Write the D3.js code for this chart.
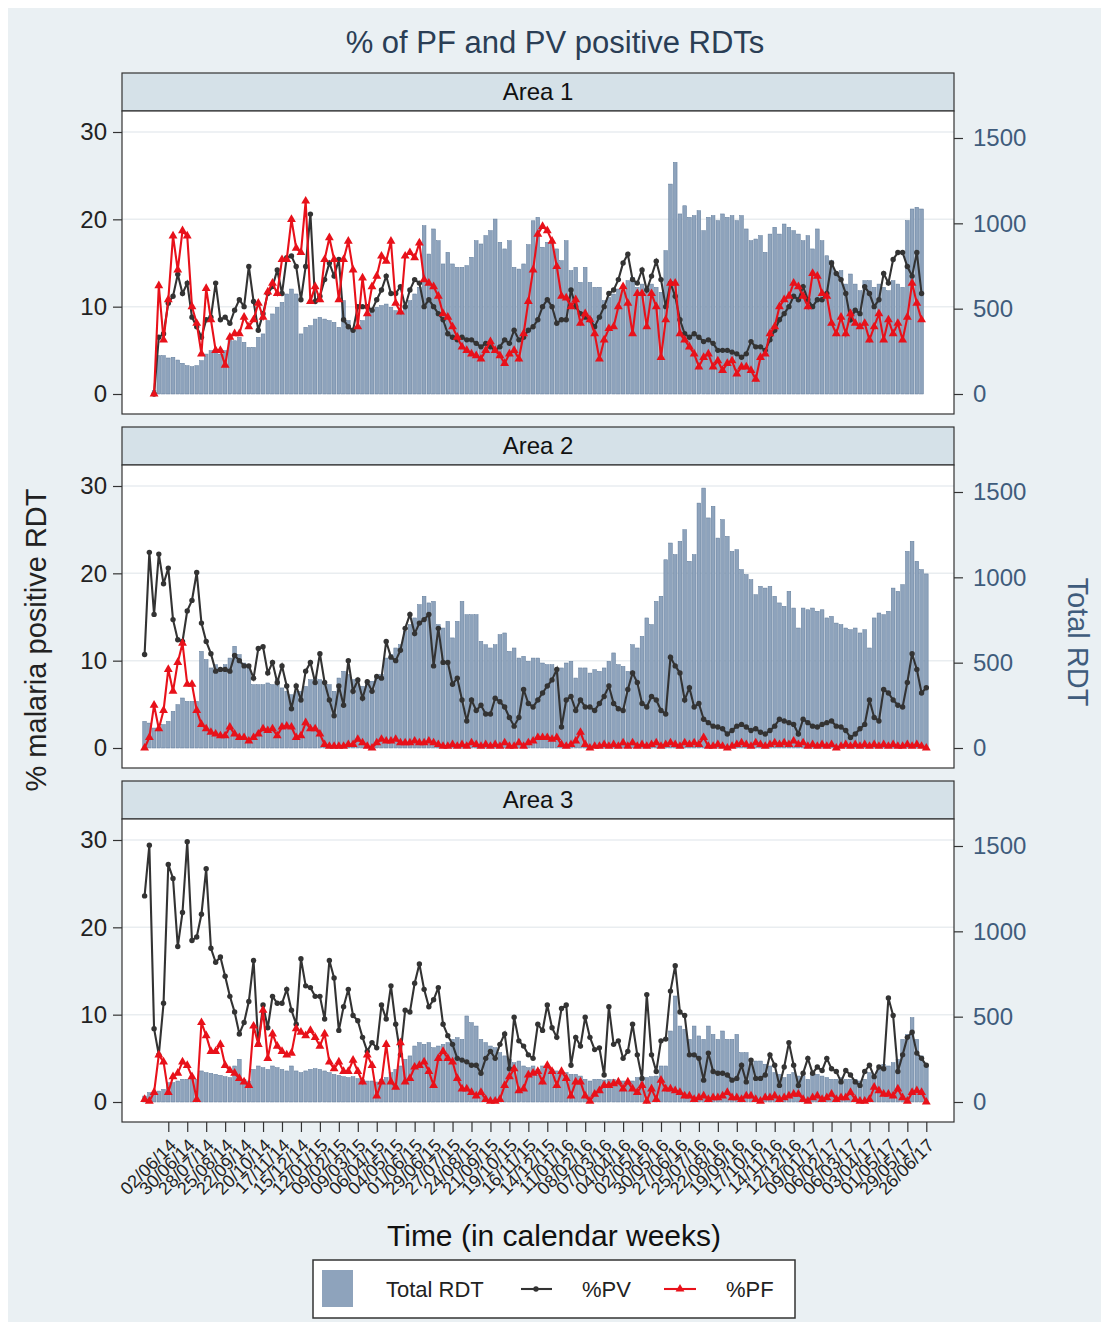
<!DOCTYPE html>
<html>
<head>
<meta charset="utf-8">
<script src="https://cdn.jsdelivr.net/npm/d3@7"></script>
<style>
  body { margin: 0; background: #fff; }
  text { font-family: "Liberation Sans", Arial, sans-serif; }
</style>
</head>
<body>
<script>
// x tick labels, one every 4 weeks (week index 5, 9, ... 165)
const tickLabels = ["02/06/14","30/06/14","28/07/14","25/08/14","22/09/14","20/10/14","17/11/14","15/12/14",
  "12/01/15","09/02/15","09/03/15","06/04/15","04/05/15","01/06/15","29/06/15","27/07/15","24/08/15",
  "21/09/15","19/10/15","16/11/15","14/12/15","11/01/16","08/02/16","07/03/16","04/04/16","02/05/16",
  "30/05/16","27/06/16","25/07/16","22/08/16","19/09/16","17/10/16","14/11/16","12/12/16","09/01/17",
  "06/02/17","06/03/17","03/04/17","01/05/17","29/05/17","26/06/17"];
const tickWeeks = d3.range(5, 166, 4);

// weekly values, week 0 = 28/04/14
const area1Total = [null, null, 20, 225, 225, 211, 215, 199, 180, 166,
  160, 166, 195, 234, 254, 254, 234, 254, 332, 312,
  332, 303, 273, 273, 332, 352, 430, 469, 508, 537,
  586, 615, 586, 352, 391, 400, 439, 449, 439, 430,
  420, 391, 547, 430, 381, 391, 430, 469, 488, 508,
  518, 527, 508, 488, 469, 518, 547, 586, 625, 986,
  820, 967, 898, 762, 830, 762, 742, 742, 752, 801,
  898, 879, 928, 957, 1025, 889, 850, 898, 742, 732,
  762, 875, 1015, 1035, 860, 889, 898, 850, 781, 898,
  723, 742, 654, 742, 654, 625, 625, 547, 566, 586,
  615, 605, 664, 684, 625, 644, 625, 644, 625, 596,
  840, 1230, 1357, 1055, 1103, 1035, 1045, 1074, 957, 1035,
  1045, 1016, 1055, 1035, 1045, 1016, 1045, 967, 898, 908,
  928, 830, 937, 977, 937, 996, 977, 957, 937, 898,
  928, 850, 967, 898, 810, 781, 703, 723, 644, 703,
  644, 605, 664, 664, 625, 644, 625, 605, 664, 644,
  625, 1016, 1084, 1094, 1084, null];
const area1PV = [null, null, 0, 6.5, 6.9, 10.4, 11.2, 13.7, 11.5, 12.7,
  8.8, 7.7, 6.5, 8.5, 8.8, 12.7, 8.5, 8.8, 8.1, 9.6,
  10.8, 10, 14.6, 10.6, 7.3, 9.2, 11.5, 12.3, 14.2, 11.5,
  15.6, 15.8, 14.6, 10.8, 14.6, 20.6, 10.6, 11.2, 13.1, 15,
  13.5, 15.4, 8.5, 7.7, 7.3, 10, 10, 10, 9.6, 10.8,
  11.9, 13.5, 11.5, 11.5, 12.3, 10, 11.9, 13.1, 12.7, 10,
  10.8, 10, 9.2, 8.5, 6.9, 6.5, 6.2, 6.5, 6.2, 6.2,
  5.8, 5.4, 5.8, 5.4, 5, 5.4, 6.2, 5.8, 7.3, 6.2,
  6.5, 7.3, 7.7, 8.5, 10, 10.8, 10, 8.1, 8.5, 8.5,
  11.9, 10, 9.2, 8.8, 8.5, 7.7, 8.8, 10, 11.5, 11.9,
  13.1, 15, 16, 13.1, 12.7, 14.2, 11.9, 13.5, 15.2, 13.1,
  10, 12.7, 11.2, 8.5, 6.9, 6.5, 6.9, 6.5, 6, 6.2,
  5.8, 5, 5, 5, 4.8, 4.6, 4.2, 4.6, 6, 5.4,
  5.4, 5, 6.2, 7.3, 8.5, 9.2, 10, 11.2, 10.8, 12.3,
  10.8, 10, 10.8, 10.8, 11.5, 15, 13.8, 13.1, 11.5, 8.5,
  9.6, 9.2, 12.3, 11.5, 10, 10.8, 13.8, 12.7, 15.4, 16.2,
  16.2, 14.6, 13.5, 16.2, 11.5, null];
const area1PF = [null, null, 0, 12.4, 6.2, 10.8, 18.1, 14.2, 18.7, 18.1,
  10, 8.1, 4.6, 12.1, 8.5, 5, 5, 3.3, 6.5, 6.9,
  6.9, 8.8, 7.7, 8.5, 10.4, 8.8, 11.7, 12.7, 11.5, 15.4,
  15.4, 20, 16.7, 16.2, 22.1, 10.6, 12.3, 10.8, 15.4, 17.9,
  15.4, 10.8, 15.4, 17.5, 14.2, 7.7, 13.3, 9.2, 12.3, 13.5,
  15.8, 15.2, 17.5, 10.4, 9.4, 15.8, 16.2, 15.6, 17.3, 13.1,
  12.7, 12.3, 11.2, 9.2, 8.8, 7.7, 6.5, 5.4, 5, 4.6,
  4.4, 4, 5, 6, 5, 4.4, 3.5, 4.6, 5, 4,
  6.9, 10.6, 14.2, 18.3, 19.2, 18.7, 17.5, 14.6, 11.2, 11,
  10, 10.8, 8.1, 9.2, 8.5, 6.9, 4, 6.2, 7.5, 7.7,
  10, 12.3, 10.4, 6.9, 11.5, 11.5, 7.7, 11.5, 10, 4.2,
  8.5, 12.7, 12.7, 6.9, 6.2, 5.4, 4.6, 3.1, 4.2, 4.6,
  3.1, 3.8, 2.7, 3.5, 3.8, 2.3, 3.1, 3.1, 2.7, 1.7,
  4.2, 4.6, 6.9, 7.7, 10, 10.8, 11.2, 12.7, 12.3, 11.2,
  10, 13.8, 13.5, 11.5, 11.2, 8.1, 6.9, 8.8, 6.9, 9.2,
  8.1, 7.7, 8.1, 6.2, 7.7, 9.2, 6.2, 8.5, 6.9, 8.1,
  6.2, 8.8, 12.7, 10.4, 8.5, null];

const area2Total = [156, 146, 117, 98, 137, 156, 215, 254, 293, 273,
  273, 273, 566, 518, 469, 488, 469, 488, 527, 596,
  547, 498, 488, 371, 371, 371, 381, 371, 400, 352,
  332, 312, 332, 332, 361, 400, 410, 400, 371, 371,
  332, 410, 449, 430, 400, 371, 361, 381, 391, 410,
  430, 527, 547, 586, 605, 684, 723, 762, 840, 889,
  850, 859, 723, 703, 742, 645, 742, 859, 781, 781,
  781, 625, 605, 586, 605, 664, 674, 566, 586, 527,
  537, 508, 527, 527, 498, 488, 488, 449, 469, 498,
  508, 410, 469, 469, 439, 459, 449, 469, 508, 557,
  488, 478, 449, 605, 586, 654, 762, 723, 859, 889,
  1103, 1201, 1133, 1211, 1279, 1094, 1133, 1435, 1523, 1348,
  1416, 1230, 1338, 1240, 1152, 1162, 1045, 1016, 986, 898,
  947, 937, 947, 889, 850, 830, 918, 820, 703, 820,
  810, 820, 801, 810, 762, 771, 732, 723, 703, 693,
  703, 674, 693, 586, 762, 791, 781, 801, 937, 918,
  957, 1152, 1211, 1094, 1045, 1020];
const area2PV = [10.7, 22.4, 15.3, 22.2, 18.8, 20.6, 14.7, 12.4, 12.2, 15.7,
  16.9, 20.1, 14.3, 12.2, 10.8, 8.8, 9, 9, 8.8, 10.6,
  10, 9.4, 9.4, 8, 11.4, 11.6, 8.6, 9.8, 7.5, 9.4,
  7.1, 4.5, 7.1, 5.5, 8.8, 9.8, 7.5, 10.8, 7.5, 5.5,
  3.7, 7.1, 4.9, 10, 6.5, 7.8, 5.7, 7.6, 6.5, 8.2,
  8, 12.2, 10.4, 10, 11.2, 13.7, 15.3, 13.1, 14.3, 14.7,
  15.3, 9.4, 13.7, 9.8, 9.8, 7.3, 8, 5.5, 3.1, 5.5,
  4.3, 4.9, 3.9, 3.9, 5.7, 5.3, 4.7, 3.5, 2.5, 3.5,
  6.7, 5.1, 4.7, 5.5, 6.3, 7.1, 7.8, 9, 2.4, 5.5,
  5.9, 4.3, 5.5, 4.7, 4.7, 4.3, 5.1, 5.9, 7.1, 5.1,
  4.5, 4.3, 6.7, 8.6, 7.5, 5.1, 4.7, 5.9, 5.5, 4.3,
  3.9, 10.4, 9.4, 8.6, 5.5, 6.9, 4.7, 5.1, 3.3, 2.9,
  2.5, 2.4, 2.2, 1.6, 2, 2.5, 2.7, 2.4, 2, 2.2,
  1.8, 1.6, 2, 2.5, 3.3, 3.1, 2.9, 2.7, 1.6, 3.3,
  2.9, 2.5, 2.4, 2.7, 2.9, 3.1, 2.5, 2.4, 2, 1.2,
  1.6, 2.2, 2.7, 5.5, 3.5, 3.1, 6.7, 6.3, 5.5, 4.9,
  4.7, 7.5, 10.8, 9, 6.3, 6.9];
const area2PF = [0, 1.2, 4.9, 2.2, 4.3, 9, 6.5, 9.8, 12, 7.3,
  7.3, 4.3, 2.7, 2.2, 1.8, 1.6, 1.4, 1.4, 2.4, 1.6,
  1.2, 1.2, 0.8, 1.2, 1.6, 2.2, 2, 2.2, 1.4, 2.4,
  2.5, 2.4, 1.2, 1.4, 2.9, 2.2, 2.2, 1.6, 0.4, 0.2,
  0.2, 0.2, 0.2, 0.4, 0.4, 1, 0.6, 0.2, 0, 0.6,
  1, 0.8, 0.8, 1, 0.6, 0.6, 0.6, 0.8, 0.6, 0.6,
  0.8, 0.6, 0.4, 0.2, 0.2, 0.4, 0.2, 0.4, 0.2, 0.6,
  0.4, 0.2, 0.4, 0.2, 0.4, 0.2, 0.6, 0.2, 0.2, 0.6,
  0.2, 0.6, 0.8, 1.2, 1.2, 1.2, 1, 1.2, 0.4, 0.2,
  0.4, 0.8, 1.8, 0.4, 0, 0.2, 0.2, 0.4, 0.2, 0.4,
  0.2, 0.6, 0.2, 0.6, 0.2, 0.4, 0.2, 0.4, 0.6, 0.2,
  0.4, 0.6, 0.4, 0.2, 0.6, 0.4, 0.6, 0.4, 1.2, 0.2,
  0.2, 0.4, 0.2, 0, 0.2, 0.4, 0.6, 0.4, 0.2, 0.6,
  0.4, 0.2, 0.4, 0.6, 0.4, 0.6, 0.4, 0.8, 0.4, 0.6,
  0.2, 0.4, 0.2, 0.4, 0.2, 0.4, 0, 0.2, 0.4, 0.2,
  0.4, 0.2, 0.4, 0.2, 0.4, 0.2, 0.4, 0.2, 0.4, 0.2,
  0.2, 0.4, 0.2, 0.4, 0.2, 0];

const area3Total = [35, 55, 55, 64, 74, 113, 113, 123, 133, 133,
  143, 133, 182, 172, 168, 162, 156, 148, 143, 211,
  250, 133, 123, 191, 211, 201, 191, 211, 201, 191,
  182, 211, 182, 172, 182, 191, 195, 191, 182, 172,
  162, 156, 148, 143, 148, 137, 133, 123, 123, 117,
  133, 143, 172, 191, 211, 250, 270, 328, 348, 338,
  348, 318, 328, 338, 348, 367, 377, 367, 504, 465,
  445, 367, 348, 328, 318, 289, 270, 250, 230, 240,
  211, 201, 211, 191, 211, 201, 191, 182, 172, 172,
  162, 162, 152, 133, 123, 133, 133, 129, 133, 133,
  123, 123, 113, 123, 143, 143, 143, 148, 152, 211,
  211, 416, 621, 445, 426, 367, 445, 387, 367, 445,
  396, 367, 416, 367, 367, 396, 289, 289, 250, 240,
  240, 221, 211, 172, 162, 143, 162, 172, 152, 152,
  133, 172, 162, 152, 143, 133, 133, 143, 133, 133,
  133, 123, 133, 172, 152, 211, 221, 211, 230, 250,
  367, 396, 494, 367, 270, 211];
const area3PV = [23.6, 29.4, 8.4, 5.4, 11.3, 27.2, 25.6, 17.8, 21.7, 29.8,
  18.5, 18.9, 21.5, 26.7, 17.6, 16, 16.6, 14.4, 12.1, 10.3,
  7.8, 9.1, 11.5, 16.2, 6.6, 11.1, 8.5, 12.1, 11.3, 11.3,
  12.9, 10.5, 8.9, 16.4, 13.3, 13.1, 12.1, 12.1, 9.5, 16.2,
  14.2, 8.2, 10.9, 12.9, 9.9, 9.3, 7.4, 5.8, 6.8, 6.2,
  11.1, 9.5, 13.3, 8.9, 5.4, 10.5, 10.3, 13.6, 15.8, 12.9,
  10.9, 11.7, 13.1, 8.9, 7.6, 6.6, 5, 4.8, 4.6, 4.2,
  4.2, 3.3, 5, 5.8, 5, 6.6, 7.8, 3.8, 9.7, 7,
  6.4, 5.4, 5, 8.9, 8.2, 11.1, 8.5, 7.4, 10.7, 11.1,
  4.2, 7.4, 6.4, 9.7, 7.4, 6, 6.2, 3.1, 10.9, 6.6,
  7, 5, 5.8, 8.9, 5.4, 2.7, 12.3, 5.4, 3.5, 7,
  7.2, 12.7, 15.6, 10.3, 9.9, 5.4, 5.4, 5, 2.5, 5.6,
  3.5, 3.3, 3.3, 3.1, 2.5, 2.7, 4.2, 2.3, 4.8, 2.7,
  2.7, 3.1, 5.4, 4.2, 1.9, 4, 6.8, 4.2, 1.9, 3.3,
  5, 3.3, 4, 3.6, 5, 3.8, 3.5, 2.3, 3.6, 3.1,
  2.3, 1.9, 3.5, 4.2, 2.9, 4, 3.8, 11.9, 9.9, 3.5,
  5.4, 7.4, 8, 5.6, 5, 4.2];
const area3PF = [0.3, 0.1, 1.1, 5.4, 4.6, 1.1, 2.9, 3.3, 4.6, 4.2,
  2.9, 0.3, 9.1, 7.6, 5.8, 5.8, 6.6, 4.2, 3.6, 3.3,
  2.7, 2.3, 1.9, 8.7, 6.6, 10.5, 5, 7.8, 6.4, 5.8,
  5.4, 5.6, 8.4, 8, 7.6, 8.2, 7.4, 6.4, 7.8, 4.6,
  3.8, 4.6, 3.5, 3.5, 4.8, 3.5, 2.3, 5.4, 4.2, 0.7,
  2.3, 6.6, 2.3, 1.7, 6.8, 2.3, 2.7, 4, 4.2, 4.6,
  3.5, 1.9, 5, 5.8, 5, 4.6, 2.7, 1.5, 1.5, 1.1,
  0.7, 1.1, 0.3, 0.1, 0.1, 0.3, 1.9, 2.9, 3.8, 1.3,
  1.5, 3.1, 3.3, 3.5, 2.3, 4.2, 3.5, 1.9, 3.5, 2.7,
  0.7, 2.3, 2.3, 0.7, 0.1, 0.9, 1.3, 1.9, 1.9, 2.1,
  2.3, 1.5, 2.3, 1.5, 1.1, 1.9, 0.1, 1.5, 0.3, 2.5,
  1.5, 1.5, 1.3, 1.1, 0.7, 0.7, 0.3, 0.5, 0.7, 0.3,
  0.5, 0.5, 0.7, 1.1, 0.5, 0.5, 0.3, 0.7, 0.7, 0.3,
  0.1, 0.5, 0.5, 0.7, 0.3, 0.5, 0.7, 0.9, 0.9, 0.3,
  0.1, 0.5, 0.7, 0.3, 0.5, 0.9, 0.3, 0.5, 0.5, 1.1,
  0.3, 0.1, 0.1, 0.3, 1.7, 1.3, 0.9, 0.9, 0.7, 1.5,
  0.5, 0.1, 1.1, 1.3, 1.1, 0];

const areas = [
  { name: "Area 1", total: area1Total, pv: area1PV, pf: area1PF },
  { name: "Area 2", total: area2Total, pv: area2PV, pf: area2PF },
  { name: "Area 3", total: area3Total, pv: area3PV, pf: area3PF }
];

const width = 1109, height = 1330;
const left = 122, right = 954;
const barFill = "#8ea3bc", barStroke = "#5f7a99";
const pvColor = "#333333", pfColor = "#e8111a";
const rightColor = "#3f5c7c";

const svg = d3.select("body").append("svg")
  .attr("width", width)
  .attr("height", height);

svg.append("rect")
  .attr("x", 8).attr("y", 8)
  .attr("width", width - 16).attr("height", height - 16)
  .attr("fill", "#eaf0f3");

svg.append("text")
  .attr("x", 555).attr("y", 53)
  .attr("text-anchor", "middle")
  .attr("font-size", 31)
  .attr("fill", "#2a3e55")
  .text("% of PF and PV positive RDTs");

const x = d3.scaleLinear().domain([0, 165]).range([144.6, 926.3]);
const barW = 3.7;

const triangle = d3.symbol().type(d3.symbolTriangle).size(34);

areas.forEach((a, k) => {
  const top = 73 + k * 354;
  const headH = 38;
  const plotTop = top + headH;
  const plotBottom = top + 341;
  const zeroY = top + 321;

  const yL = d3.scaleLinear().domain([0, 30]).range([zeroY, zeroY - 262]);
  const yR = d3.scaleLinear().domain([0, 1500]).range([zeroY, zeroY - 256]);

  const g = svg.append("g");

  // strip header
  g.append("rect")
    .attr("x", left).attr("y", top)
    .attr("width", right - left).attr("height", headH)
    .attr("fill", "#d5e1e8")
    .attr("stroke", "#333").attr("stroke-width", 1.2);
  g.append("text")
    .attr("x", (left + right) / 2).attr("y", top + 27)
    .attr("text-anchor", "middle")
    .attr("font-size", 24)
    .attr("fill", "#111")
    .text(a.name);

  // plot region
  g.append("rect")
    .attr("x", left).attr("y", plotTop)
    .attr("width", right - left).attr("height", plotBottom - plotTop)
    .attr("fill", "#fff");

  // grid
  g.append("g").selectAll("line")
    .data([10, 20, 30])
    .join("line")
    .attr("x1", left).attr("x2", right)
    .attr("y1", d => yL(d)).attr("y2", d => yL(d))
    .attr("stroke", "#e9edf0")
    .attr("stroke-width", 1.5);

  // bars
  const idx = d3.range(a.total.length).filter(i => a.total[i] != null);
  g.append("g").selectAll("rect")
    .data(idx)
    .join("rect")
    .attr("x", i => x(i) - barW / 2)
    .attr("y", i => yR(a.total[i]))
    .attr("width", barW)
    .attr("height", i => zeroY - yR(a.total[i]))
    .attr("fill", barFill)
    .attr("stroke", barStroke)
    .attr("stroke-width", 0.5);

  // PV line
  const pvIdx = d3.range(a.pv.length).filter(i => a.pv[i] != null);
  g.append("path")
    .datum(pvIdx)
    .attr("fill", "none")
    .attr("stroke", pvColor)
    .attr("stroke-width", 2.1)
    .attr("d", d3.line().x(i => x(i)).y(i => yL(a.pv[i])));
  g.append("g").selectAll("circle")
    .data(pvIdx)
    .join("circle")
    .attr("cx", i => x(i))
    .attr("cy", i => yL(a.pv[i]))
    .attr("r", 2.7)
    .attr("fill", pvColor);

  // PF line
  const pfIdx = d3.range(a.pf.length).filter(i => a.pf[i] != null);
  g.append("path")
    .datum(pfIdx)
    .attr("fill", "none")
    .attr("stroke", pfColor)
    .attr("stroke-width", 2.1)
    .attr("d", d3.line().x(i => x(i)).y(i => yL(a.pf[i])));
  g.append("g").selectAll("path")
    .data(pfIdx)
    .join("path")
    .attr("transform", i => `translate(${x(i)},${yL(a.pf[i])})`)
    .attr("d", triangle)
    .attr("fill", pfColor);

  // plot border
  g.append("rect")
    .attr("x", left).attr("y", plotTop)
    .attr("width", right - left).attr("height", plotBottom - plotTop)
    .attr("fill", "none")
    .attr("stroke", "#333").attr("stroke-width", 1.2);

  // left axis
  const axL = g.append("g")
    .attr("transform", `translate(${left},0)`)
    .call(d3.axisLeft(yL).tickValues([0, 10, 20, 30]).tickSize(9).tickPadding(6));
  axL.select(".domain").remove();
  axL.selectAll("line").attr("stroke", "#333").attr("stroke-width", 1.2);
  axL.selectAll("text").attr("font-size", 24).attr("fill", "#222")
    .attr("font-family", "Liberation Sans, Arial, sans-serif");

  // right axis
  const axR = g.append("g")
    .attr("transform", `translate(${right},0)`)
    .call(d3.axisRight(yR).tickValues([0, 500, 1000, 1500])
      .tickFormat(d3.format("d")).tickSize(9).tickPadding(10));
  axR.select(".domain").remove();
  axR.selectAll("line").attr("stroke", "#333").attr("stroke-width", 1.2);
  axR.selectAll("text").attr("font-size", 24).attr("fill", rightColor)
    .attr("font-family", "Liberation Sans, Arial, sans-serif");

  // bottom axis on last panel
  if (k === areas.length - 1) {
    const axB = g.append("g")
      .attr("transform", `translate(0,${plotBottom})`)
      .call(d3.axisBottom(x).tickValues(tickWeeks)
        .tickFormat((d, i) => tickLabels[i]).tickSize(10));
    axB.select(".domain").remove();
    axB.selectAll("line").attr("stroke", "#333").attr("stroke-width", 1.2);
    axB.selectAll("text")
      .attr("font-size", 18)
      .attr("fill", "#222")
      .attr("font-family", "Liberation Sans, Arial, sans-serif")
      .attr("text-anchor", "end")
      .attr("x", 0).attr("y", 0).attr("dy", "0.35em")
      .attr("transform", "translate(4,20) rotate(-45)");
  }
});

// axis titles
svg.append("text")
  .attr("transform", "translate(46,640) rotate(-90)")
  .attr("text-anchor", "middle")
  .attr("font-size", 29)
  .attr("fill", "#222")
  .text("% malaria positive RDT");

svg.append("text")
  .attr("transform", "translate(1068,642) rotate(90)")
  .attr("text-anchor", "middle")
  .attr("font-size", 29)
  .attr("fill", rightColor)
  .text("Total RDT");

svg.append("text")
  .attr("x", 554).attr("y", 1246)
  .attr("text-anchor", "middle")
  .attr("font-size", 30)
  .attr("fill", "#111")
  .text("Time (in calendar weeks)");

// legend
const lg = svg.append("g");
lg.append("rect")
  .attr("x", 313).attr("y", 1260)
  .attr("width", 482).attr("height", 58)
  .attr("fill", "#fff")
  .attr("stroke", "#333").attr("stroke-width", 1.5);
lg.append("rect")
  .attr("x", 322).attr("y", 1270)
  .attr("width", 31).attr("height", 37)
  .attr("fill", barFill);
lg.append("text").attr("x", 386).attr("y", 1297).attr("font-size", 22).attr("fill", "#222").text("Total RDT");
lg.append("line").attr("x1", 521).attr("x2", 552).attr("y1", 1289).attr("y2", 1289)
  .attr("stroke", pvColor).attr("stroke-width", 2.1);
lg.append("circle").attr("cx", 536).attr("cy", 1289).attr("r", 2.7).attr("fill", pvColor);
lg.append("text").attr("x", 582).attr("y", 1297).attr("font-size", 22).attr("fill", "#222").text("%PV");
lg.append("line").attr("x1", 664).attr("x2", 696).attr("y1", 1289).attr("y2", 1289)
  .attr("stroke", pfColor).attr("stroke-width", 2.1);
lg.append("path").attr("transform", "translate(680,1289)").attr("d", triangle).attr("fill", pfColor);
lg.append("text").attr("x", 726).attr("y", 1297).attr("font-size", 22).attr("fill", "#222").text("%PF");
</script>
</body>
</html>
